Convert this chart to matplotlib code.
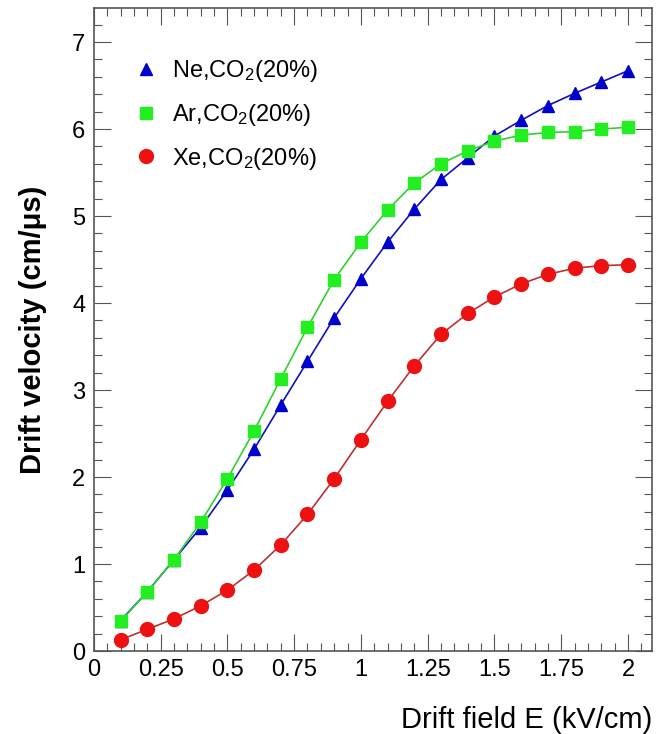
import matplotlib
matplotlib.use("Agg")
import matplotlib.pyplot as plt
from matplotlib.ticker import MultipleLocator
from matplotlib import font_manager

names = {f.name for f in font_manager.fontManager.ttflist}
fam = 'Liberation Sans Narrow' if 'Liberation Sans Narrow' in names else 'Liberation Sans'
plt.rcParams['font.family'] = [fam, 'DejaVu Sans']
plt.rcParams['mathtext.fontset'] = 'custom'
plt.rcParams['mathtext.rm'] = fam
plt.rcParams['mathtext.it'] = fam

field = [0.1, 0.2, 0.3, 0.4, 0.5, 0.6, 0.7, 0.8, 0.9, 1.0,
         1.1, 1.2, 1.3, 1.4, 1.5, 1.6, 1.7, 1.8, 1.9, 2.0]
ne_v = [0.35, 0.68, 1.05, 1.42, 1.85, 2.32, 2.83, 3.33, 3.83, 4.28,
        4.70, 5.08, 5.42, 5.67, 5.92, 6.10, 6.27, 6.41, 6.54, 6.67]
ar_v = [0.34, 0.68, 1.05, 1.48, 1.98, 2.53, 3.13, 3.72, 4.27, 4.70,
        5.07, 5.38, 5.60, 5.75, 5.86, 5.93, 5.96, 5.97, 6.00, 6.02]
xe_v = [0.13, 0.25, 0.37, 0.52, 0.70, 0.93, 1.22, 1.57, 1.98, 2.43,
        2.87, 3.28, 3.64, 3.88, 4.07, 4.22, 4.33, 4.40, 4.43, 4.44]
labels = [r'Ne,CO$_2$(20%)', r'Ar,CO$_2$(20%)', r'Xe,CO$_2$(20%)']

fig = plt.figure(figsize=(6.56, 7.34), dpi=100)
ax = fig.add_axes([0.143, 0.113, 0.851, 0.876])

ax.plot(field, ne_v, '-', color='#1010c0', lw=1.2, marker='^', ms=9,
        mfc='#0000cc', mec='#0000cc', label=labels[0])
ax.plot(field, ar_v, '-', color='#30d030', lw=1.2, marker='s', ms=9,
        mfc='#22ee22', mec='#22ee22', label=labels[1])
ax.plot(field, xe_v, '-', color='#c03030', lw=1.2, marker='o', ms=10,
        mfc='#ee1111', mec='#ee1111', label=labels[2])

ax.set_xlim(0, 2.09)
ax.set_ylim(0, 7.39)
ax.xaxis.set_minor_locator(MultipleLocator(0.05))
ax.yaxis.set_major_locator(MultipleLocator(1))
ax.yaxis.set_minor_locator(MultipleLocator(0.2))
ax.set_xticks([0, 0.25, 0.5, 0.75, 1, 1.25, 1.5, 1.75, 2])
ax.set_xticklabels(['0', '0.25', '0.5', '0.75', '1', '1.25', '1.5', '1.75', '2'])
ax.tick_params(which='both', direction='in', top=True, right=True, labelsize=17, pad=6)
ax.tick_params(which='major', length=12, width=0.8, color='#555555')
ax.tick_params(which='minor', length=6, width=0.8, color='#555555')
for s in ax.spines.values():
    s.set_color('#555555')
    s.set_linewidth(1.2)

ax.set_xlabel('Drift field E (kV/cm)', fontsize=21, loc='right', labelpad=18)
ax.set_ylabel('Drift velocity (cm/\u03bcs)', fontsize=21, fontweight='bold', labelpad=18)

leg = ax.legend(loc='upper left', bbox_to_anchor=(0.035, 0.955), frameon=False,
                fontsize=17, handlelength=1.0, handletextpad=0.6, labelspacing=0.75)
for h in leg.legend_handles:
    h.set_linestyle('None')

fig.savefig('out.png', dpi=100)
